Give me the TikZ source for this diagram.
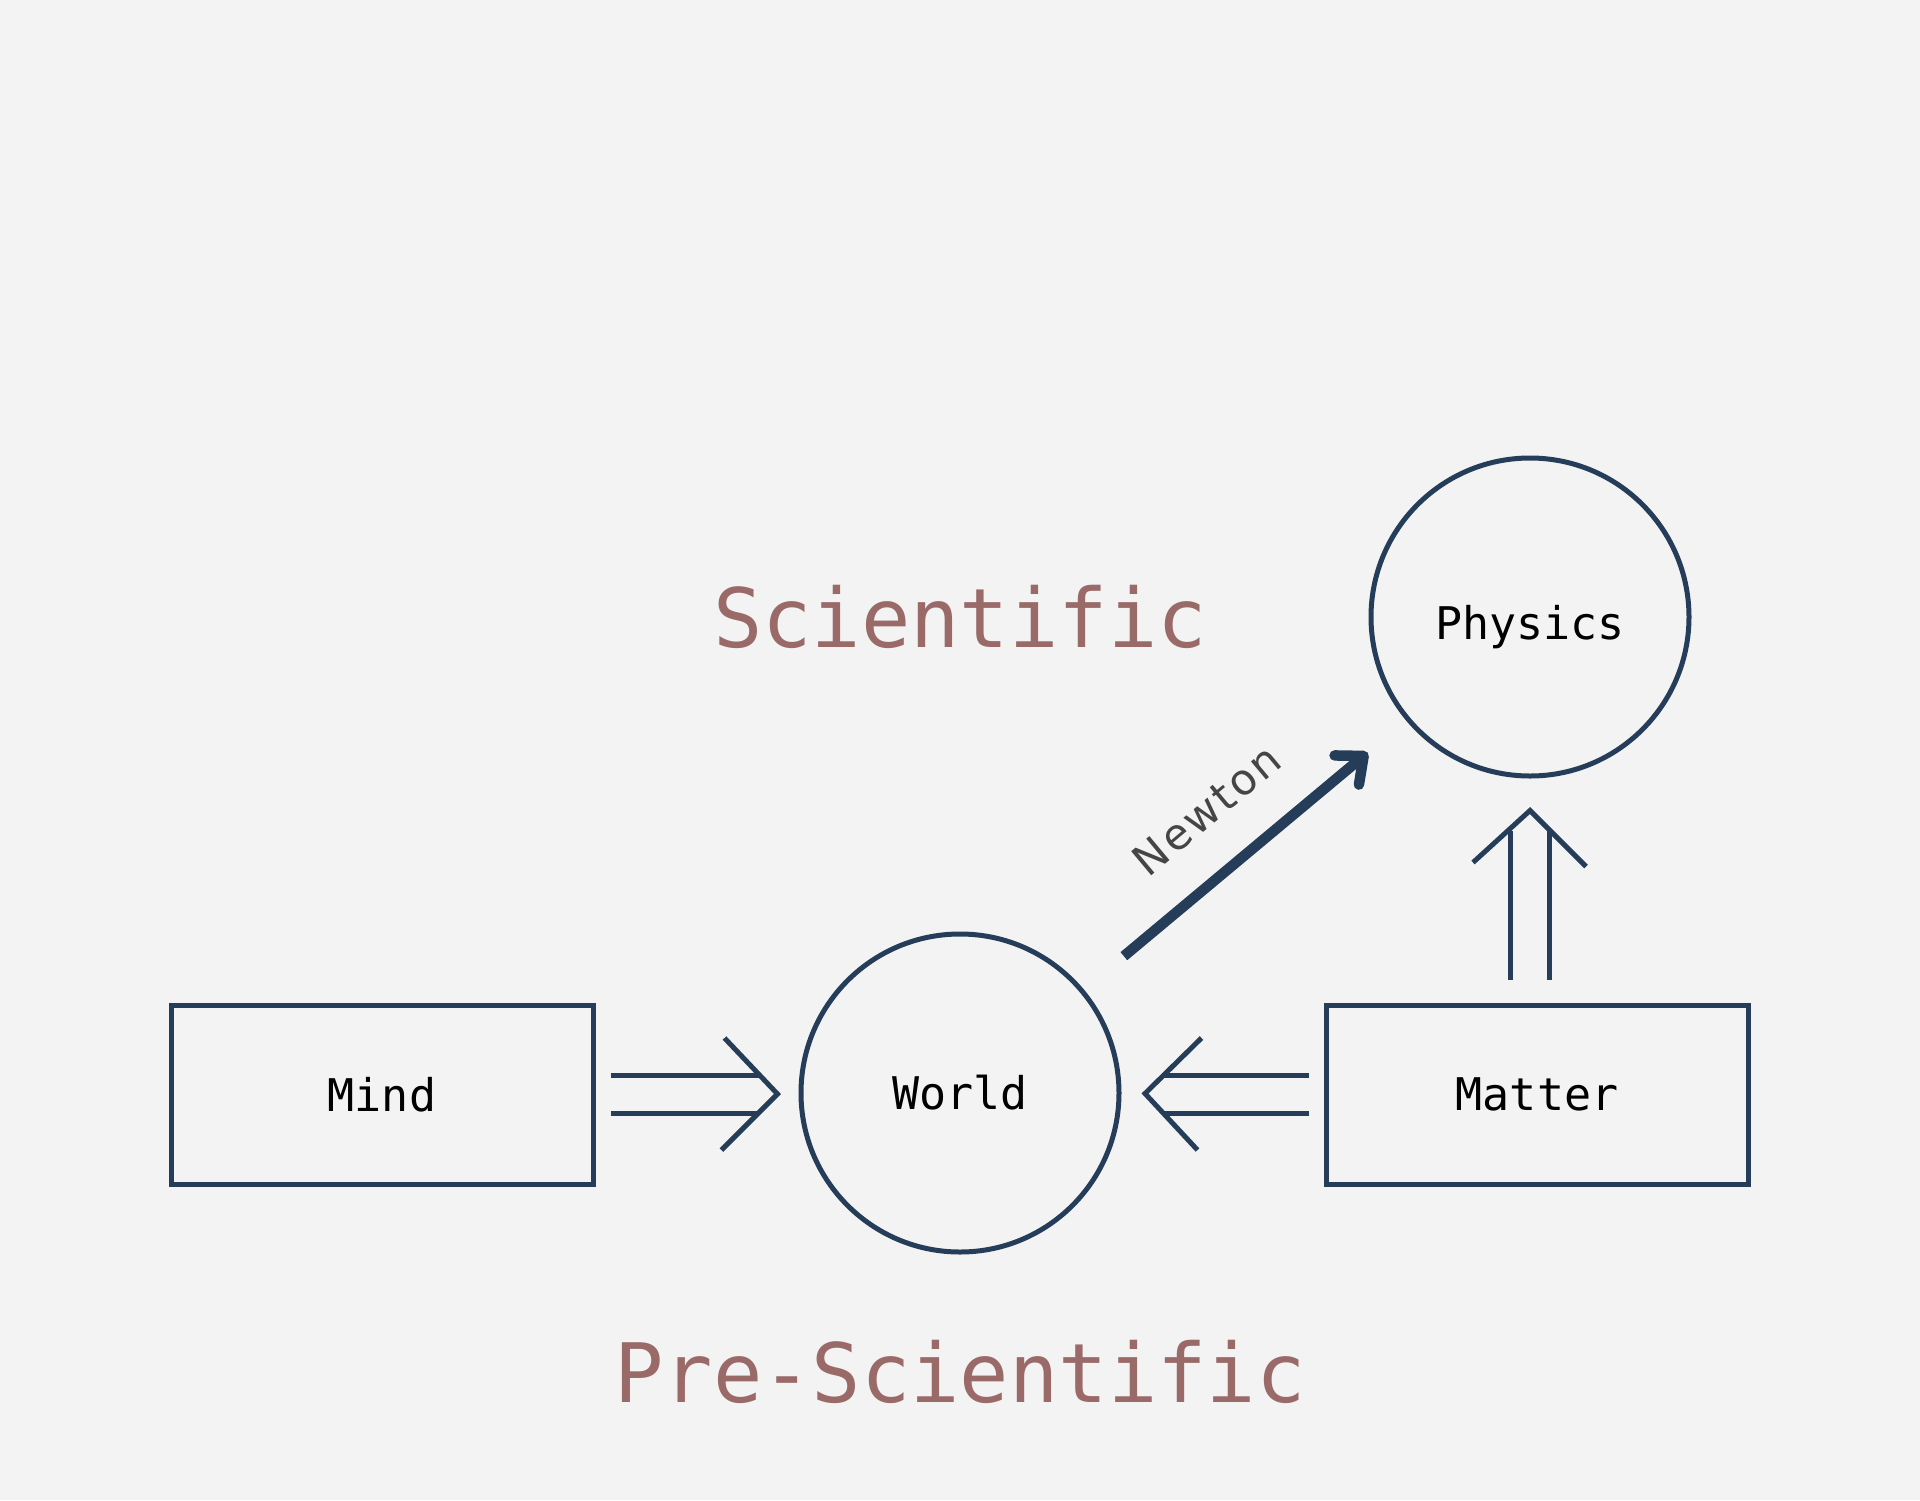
\documentclass[tikz,border=0pt]{standalone}
\usepackage{fontspec}
\setmonofont{DejaVu Sans Mono}
\newfontfamily\labelfont[LetterSpace=6]{DejaVu Sans}
\usetikzlibrary{calc,arrows.meta}
\definecolor{navy}{HTML}{263D5A}
\definecolor{mauve}{HTML}{9A6A69}
\definecolor{bgc}{HTML}{F3F3F3}
\definecolor{lblgray}{HTML}{454545}
\begin{document}
\begin{tikzpicture}[x=1pt,y=-1pt,
  boxnode/.style={draw=navy, line width=5pt, rectangle, minimum width=422pt, minimum height=179pt, inner sep=0pt, font=\fontsize{45}{54}\selectfont\ttfamily},
  circnode/.style={draw=navy, line width=5pt, circle, minimum size=318pt, inner sep=0pt, font=\fontsize{45}{54}\selectfont\ttfamily},
  titletext/.style={text=mauve, inner sep=0pt, font=\fontsize{82}{98}\selectfont\ttfamily},
  shaft/.style={draw=navy, line width=5pt},
  chev/.style={draw=navy, line width=5pt, line join=miter},
  newtonarrow/.style={draw=navy, line width=10.5pt, -{Straight Barb[length=22pt,width=38pt,round]}},
  newtonlabel/.style={text=lblgray, inner sep=0pt, font=\fontsize{43}{52}\selectfont\labelfont}
]
\fill[bgc] (0,0) rectangle (1920,1500);
\useasboundingbox (0,0) rectangle (1920,1500);

\node[boxnode] (mind) at (382,1094.5) {Mind};
\node[circnode] (world) at (960,1093) {World};
\node[boxnode] (matter) at (1537,1094.5) {Matter};
\node[circnode, text height=44pt, text depth=0pt] (physics) at (1530,617) {Physics};

\node[titletext] (sci) at (960,617) {Scientific};
\node[titletext] (presci) at (960,1372) {Pre-Scientific};

% Mind => World
\draw[shaft] ($(mind.east)+(15,-19.5)$) -- ($(world.west)+(-40,-18)$);
\draw[shaft] ($(mind.east)+(15,18.5)$) -- ($(world.west)+(-40,20)$);
\draw[chev] ($(world.west)+(-74,-55)$) -- ($(world.west)+(-21,1)$) -- ($(world.west)+(-77,57)$);

% Matter => World
\draw[shaft] ($(matter.west)+(-15,-19.5)$) -- ($(world.east)+(42,-18)$);
\draw[shaft] ($(matter.west)+(-15,18.5)$) -- ($(world.east)+(42,20)$);
\draw[chev] ($(world.east)+(80,-55)$) -- ($(world.east)+(23.5,0.5)$) -- ($(world.east)+(76,57)$);

% Matter => Physics
\draw[shaft] ($(physics.south)+(-20,201)$) -- ($(physics.south)+(-20,52)$);
\draw[shaft] ($(physics.south)+(19,201)$) -- ($(physics.south)+(19,52)$);
\draw[chev] ($(physics.south)+(-57,84)$) -- ($(physics.south)+(0,32)$) -- ($(physics.south)+(56,88)$);

% Newton
\draw[newtonarrow, shorten <=52pt, shorten >=50pt] (world) -- (physics)
  node[newtonlabel, midway, sloped, above=38pt] (newton) {Newton};
\end{tikzpicture}
\end{document}
